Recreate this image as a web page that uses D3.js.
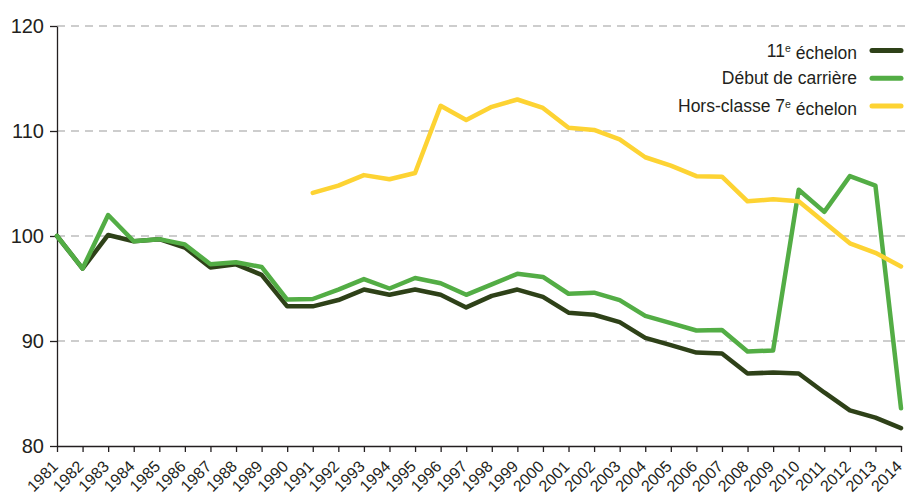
<!DOCTYPE html>
<html>
<head>
<meta charset="utf-8">
<script src="https://cdn.jsdelivr.net/npm/d3@7"></script>
<style>
  body { margin: 0; background: #fff; }
  svg text { font-family: "Liberation Sans", Arial, sans-serif; fill: #231f20; }
</style>
</head>
<body>
<svg id="chart" width="905" height="496"></svg>
<script>
// data
var years = d3.range(1981, 2015);

var echelon11 = [100, 96.9, 100.1, 99.5, 99.7, 98.9, 97.0, 97.3, 96.3, 93.3,
  93.3, 93.9, 94.9, 94.4, 94.9, 94.4, 93.2, 94.3, 94.9, 94.2,
  92.7, 92.5, 91.8, 90.3, 89.6, 88.9, 88.8, 86.9, 87.0, 86.9,
  85.1, 83.4, 82.7, 81.7];

var debutCarriere = [100, 96.9, 102.0, 99.5, 99.7, 99.2, 97.3, 97.5, 97.05, 93.95,
  94.0, 94.9, 95.9, 95.0, 96.0, 95.5, 94.4, 95.4, 96.4, 96.1,
  94.5, 94.6, 93.9, 92.4, 91.7, 91.0, 91.05, 89.0, 89.1, 104.4,
  102.3, 105.7, 104.8, 83.6];

// hors-classe starts in 1991
var horsClasse = [null, null, null, null, null, null, null, null, null, null,
  104.1, 104.8, 105.8, 105.4, 106.0, 112.4, 111.05, 112.3, 113.0, 112.2,
  110.3, 110.1, 109.2, 107.5, 106.7, 105.7, 105.65, 103.3, 103.5, 103.3,
  101.3, 99.3, 98.4, 97.1];

var yTicks = [80, 90, 100, 110, 120];

var series = [
  {name: "11e", values: echelon11, color: "#2e4118"},
  {name: "debut", values: debutCarriere, color: "#53ad45"},
  {name: "hors", values: horsClasse, color: "#fdd333"}
];

var svg = d3.select("#chart");

var x = d3.scalePoint().domain(years).range([57, 901]);
var y = d3.scaleLinear().domain([80, 120]).range([446, 26]);

// dashed grid
svg.append("g")
  .selectAll("line")
  .data(yTicks.filter(function(d) { return d > 80; }))
  .enter()
  .append("line")
    .attr("x1", 57)
    .attr("x2", 905)
    .attr("y1", function(d) { return y(d); })
    .attr("y2", function(d) { return y(d); })
    .style("stroke", "#bdbdbd")
    .style("stroke-width", 1.5)
    .style("stroke-dasharray", "8,6");

// y axis
var yAxis = svg.append("g")
  .attr("transform", "translate(57,0)")
  .call(d3.axisLeft(y).tickValues(yTicks).tickSize(7).tickPadding(6).tickSizeOuter(0));
yAxis.select(".domain").style("stroke", "#231f20").style("stroke-width", 1.3);
yAxis.selectAll(".tick line").style("stroke", "#231f20").style("stroke-width", 1.3);
yAxis.selectAll(".tick text")
  .style("font-size", "20px")
  .style("fill", "#231f20");

// x axis, labels turned 45 degrees and ending at the tick
var xAxis = svg.append("g")
  .attr("transform", "translate(0,446)")
  .call(d3.axisBottom(x).tickSize(6).tickSizeOuter(0));
xAxis.select(".domain").style("stroke", "#231f20").style("stroke-width", 1.3);
xAxis.selectAll(".tick line").style("stroke", "#231f20").style("stroke-width", 1.3);
xAxis.selectAll(".tick text")
  .style("font-size", "16px")
  .style("fill", "#231f20")
  .attr("text-anchor", "end")
  .attr("x", 0)
  .attr("y", 0)
  .attr("dy", 0)
  .attr("transform", "translate(1.5,21.5) rotate(-45)");

// lines
var line = d3.line()
  .defined(function(d) { return d[1] !== null; })
  .x(function(d) { return x(d[0]); })
  .y(function(d) { return y(d[1]); });

svg.append("g")
  .selectAll("path")
  .data(series)
  .enter()
  .append("path")
    .attr("d", function(s) { return line(years.map(function(yr, i) { return [yr, s.values[i]]; })); })
    .style("fill", "none")
    .style("stroke", function(s) { return s.color; })
    .style("stroke-width", 4.5)
    .style("stroke-linejoin", "round")
    .style("stroke-linecap", "round");

// legend
var legendLabels = [
  {main: "11", sup: "e", rest: " échelon"},
  {main: "Début de carrière", sup: "", rest: ""},
  {main: "Hors-classe 7", sup: "e", rest: " échelon"}
];

var legend = svg.append("g");
legendLabels.forEach(function(lab, i) {
  var ly = 50.5 + i * 27.7;
  var t = legend.append("text")
    .attr("x", 857)
    .attr("y", ly)
    .attr("dy", "0.35em")
    .attr("text-anchor", "end")
    .style("font-size", "17.5px");
  t.append("tspan").text(lab.main);
  if (lab.sup) {
    t.append("tspan").text(lab.sup).attr("dy", "-0.4em").style("font-size", "10.5px");
    t.append("tspan").text(lab.rest).attr("dy", "0.4em");
  }
  legend.append("line")
    .attr("x1", 872)
    .attr("x2", 901)
    .attr("y1", ly)
    .attr("y2", ly)
    .style("stroke", series[i].color)
    .style("stroke-width", 5)
    .style("stroke-linecap", "round");
});
</script>
</body>
</html>
